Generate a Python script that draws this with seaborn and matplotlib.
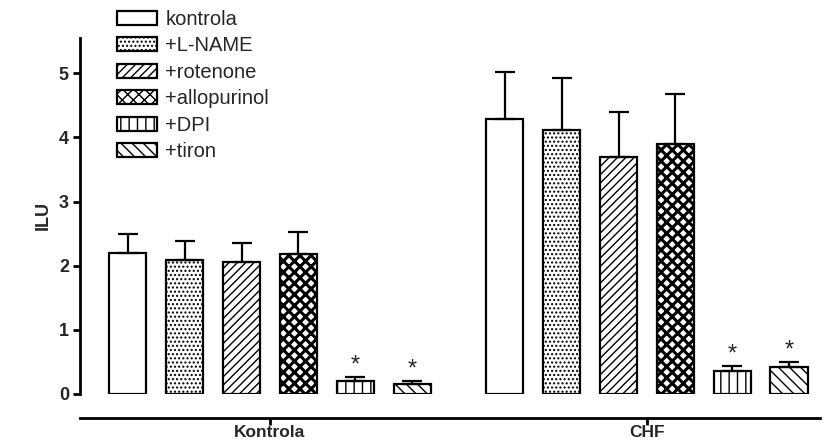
import matplotlib
matplotlib.use("Agg")
import matplotlib.pyplot as plt
from matplotlib.patches import Patch
import seaborn as sns
import pandas as pd
import numpy as np

# Group labels on the x axis
groups = ["Kontrola", "CHF"]
# Treatments (hue levels)
treatments = ["kontrola", "+L-NAME", "+rotenone", "+allopurinol", "+DPI", "+tiron"]
# Mean ILU per treatment, one list per group
means_kontrola = [2.20, 2.09, 2.06, 2.18, 0.21, 0.16]
means_chf = [4.28, 4.11, 3.70, 3.89, 0.36, 0.42]
# Upper error (SEM) per treatment
sem_kontrola = [0.29, 0.30, 0.30, 0.34, 0.05, 0.04]
sem_chf = [0.74, 0.82, 0.70, 0.78, 0.08, 0.08]
# Significance markers
stars_kontrola = ["", "", "", "", "*", "*"]
stars_chf = ["", "", "", "", "*", "*"]
yticks = [0, 1, 2, 3, 4, 5]

hatches = ["", "....", "////", "xxx", "||", "\\\\\\"]

rows = []
for g, m, s, st in [(groups[0], means_kontrola, sem_kontrola, stars_kontrola),
                    (groups[1], means_chf, sem_chf, stars_chf)]:
    for t, mv, sv, sk in zip(treatments, m, s, st):
        rows.append({"group": g, "treatment": t, "ILU": mv, "err": sv, "star": sk})
df = pd.DataFrame(rows)

sns.set_style("white")
plt.rcParams["font.family"] = ["Liberation Sans", "DejaVu Sans"]
plt.rcParams["hatch.linewidth"] = 1.0

fig = plt.figure(figsize=(8.28, 4.41), dpi=100)
ax = fig.add_axes([80 / 828, 1 - 394 / 441, 740 / 828, 356 / 441])

sns.barplot(data=df, x="group", y="ILU", hue="treatment", order=groups,
            hue_order=treatments, palette=["white"] * 6, edgecolor="black",
            linewidth=1.6, width=0.906, gap=0.34, errorbar=None, legend=False, ax=ax)

def hatch_width(name):
    return 2.2 if name == "+allopurinol" else 1.0

bars = [p for p in ax.patches]
# seaborn adds bars hue level by hue level
for i, t in enumerate(treatments):
    for j, g in enumerate(groups):
        bar = bars[i * len(groups) + j]
        bar.set_hatch(hatches[i])
        bar.set_edgecolor("black")
        if hasattr(bar, "set_hatch_linewidth"):
            bar.set_hatch_linewidth(hatch_width(t))
        row = df[(df["group"] == g) & (df["treatment"] == t)].iloc[0]
        cx = bar.get_x() + bar.get_width() / 2
        top = bar.get_height()
        err = float(row["err"])
        ax.errorbar([cx], [top], yerr=[[0], [err]], fmt="none",
                    ecolor="black", elinewidth=1.6, capsize=7, capthick=1.6,
                    zorder=1)
        if row["star"]:
            ax.text(cx, top + err + 0.01, row["star"], ha="center", va="bottom",
                    fontsize=17)

for side in ["top", "right"]:
    ax.spines[side].set_visible(False)
ax.spines["bottom"].set_position(("outward", 17))
for side in ["left", "bottom"]:
    ax.spines[side].set_linewidth(2.0)
    ax.spines[side].set_color("black")

ax.set_xlim(-0.504, 1.459)
ax.set_ylim(0, 5.55)
ax.set_yticks(yticks)
ax.set_yticklabels([str(v) for v in yticks])
ax.set_xticks([0, 1])
ax.set_xticklabels(groups)
ax.tick_params(axis="both", direction="out", length=5, width=2.0, color="black",
               pad=3, bottom=True, left=True, labelsize=13)
ax.tick_params(axis="x", pad=0, labelsize=12.5)
for lab in ax.get_xticklabels() + ax.get_yticklabels():
    lab.set_fontweight("bold")
ax.set_xlabel("")
ax.set_ylabel("ILU", fontsize=13, fontweight="bold", labelpad=5)

handles = []
for i, t in enumerate(treatments):
    h = Patch(facecolor="white", edgecolor="black", hatch=hatches[i], linewidth=1.6,
              label=t)
    if hasattr(h, "set_hatch_linewidth"):
        h.set_hatch_linewidth(hatch_width(t))
    handles.append(h)
leg = fig.legend(handles=handles, loc="upper left", bbox_to_anchor=(105 / 828, 1.005),
                 frameon=False, fontsize=14.5, handlelength=2.0, handleheight=0.7,
                 labelspacing=0.37, handletextpad=0.4, borderaxespad=0.2)

fig.savefig("out.png", dpi=100)
